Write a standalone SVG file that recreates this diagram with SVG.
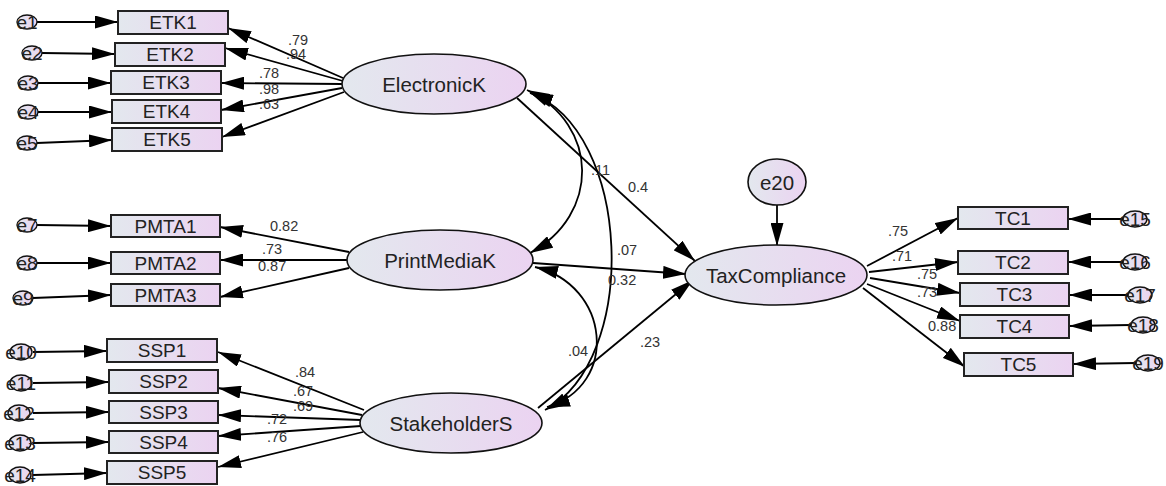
<svg xmlns="http://www.w3.org/2000/svg" width="1166" height="486" viewBox="0 0 1166 486">
<defs>
<linearGradient id="g" x1="0" y1="0" x2="1" y2="0">
<stop offset="0" stop-color="#e3e8ee"/>
<stop offset="1" stop-color="#ebd3f1"/>
</linearGradient>
<marker id="ah" markerUnits="userSpaceOnUse" markerWidth="23" markerHeight="13" refX="23" refY="6.5" orient="auto-start-reverse" viewBox="0 0 23 13">
<path d="M0,0 L23,6.5 L0,13 z" fill="#000"/>
</marker>
<style>
.box{fill:url(#g);stroke:#222;stroke-width:2}
.lat{fill:url(#g);stroke:#111;stroke-width:1.6}
.err{fill:url(#g);stroke:#111;stroke-width:1.4}
.t{font-family:"Liberation Sans",Arial,sans-serif;font-size:19px;fill:#222;text-anchor:middle;dominant-baseline:central}
.tl{font-family:"Liberation Sans",Arial,sans-serif;font-size:20.5px;fill:#222;text-anchor:middle;dominant-baseline:central}
.lb{font-family:"Liberation Sans",Arial,sans-serif;font-size:14.5px;fill:#333}
.c{fill:none;stroke:#000;stroke-width:1.8;marker-end:url(#ah)}
.cc{fill:none;stroke:#000;stroke-width:1.8;marker-start:url(#ah);marker-end:url(#ah)}
</style>
</defs>
<rect width="1166" height="486" fill="#fff"/>

<g id="connectors">
<line class="c" x1="37" y1="22" x2="118" y2="22"/>
<line class="c" x1="42" y1="53" x2="115" y2="54"/>
<line class="c" x1="38" y1="83" x2="111" y2="83"/>
<line class="c" x1="38" y1="112" x2="112" y2="112"/>
<line class="c" x1="37" y1="143" x2="112" y2="140"/>
<line class="c" x1="343" y1="78" x2="228" y2="28"/>
<line class="c" x1="343" y1="81" x2="225" y2="48"/>
<line class="c" x1="342" y1="84" x2="221" y2="83"/>
<line class="c" x1="342" y1="88" x2="221" y2="110"/>
<line class="c" x1="344" y1="92" x2="222" y2="137"/>
<line class="c" x1="37" y1="225" x2="111" y2="226"/>
<line class="c" x1="37" y1="263" x2="111" y2="263"/>
<line class="c" x1="33" y1="298" x2="111" y2="295"/>
<line class="c" x1="349" y1="252" x2="220" y2="227"/>
<line class="c" x1="347" y1="260" x2="220" y2="260"/>
<line class="c" x1="349" y1="268" x2="220" y2="297"/>
<line class="c" x1="33" y1="352" x2="107" y2="351"/>
<line class="c" x1="33" y1="383" x2="109" y2="382"/>
<line class="c" x1="33" y1="413" x2="109" y2="412"/>
<line class="c" x1="33" y1="443" x2="109" y2="442"/>
<line class="c" x1="33" y1="475" x2="107" y2="473"/>
<line class="c" x1="364" y1="410" x2="218" y2="352"/>
<line class="c" x1="362" y1="415" x2="218" y2="388"/>
<line class="c" x1="361" y1="420" x2="218" y2="415"/>
<line class="c" x1="361" y1="426" x2="218" y2="436"/>
<line class="c" x1="363" y1="432" x2="218" y2="467"/>
<line class="c" x1="517" y1="98" x2="695" y2="261"/>
<line class="c" x1="533" y1="263" x2="686" y2="274"/>
<line class="c" x1="538" y1="408" x2="693" y2="280"/>
<line class="c" x1="777" y1="205" x2="777" y2="246"/>
<path class="cc" d="M527,90 C600,125 600,215 530,253"/>
<path class="cc" d="M530,93 C632,130 640,360 545,410"/>
<path class="cc" d="M535,267 C610,285 620,385 547,407"/>
<line class="c" x1="867" y1="266" x2="958" y2="218"/>
<line class="c" x1="869" y1="272" x2="958" y2="262"/>
<line class="c" x1="870" y1="278" x2="960" y2="293"/>
<line class="c" x1="867" y1="284" x2="960" y2="321"/>
<line class="c" x1="863" y1="288" x2="965" y2="367"/>
<line class="c" x1="1123" y1="219" x2="1068" y2="219"/>
<line class="c" x1="1123" y1="262" x2="1068" y2="262"/>
<line class="c" x1="1128" y1="295" x2="1069" y2="295"/>
<line class="c" x1="1131" y1="325" x2="1069" y2="326"/>
<line class="c" x1="1136" y1="363" x2="1073" y2="364"/>
</g>

<g id="labels">
<text class="lb" x="288" y="45">.79</text>
<text class="lb" x="286" y="59">.94</text>
<text class="lb" x="259" y="78">.78</text>
<text class="lb" x="259" y="94">.98</text>
<text class="lb" x="259" y="109">.63</text>
<text class="lb" x="270" y="231">0.82</text>
<text class="lb" x="262" y="254">.73</text>
<text class="lb" x="258" y="271">0.87</text>
<text class="lb" x="295" y="377">.84</text>
<text class="lb" x="293" y="396">.67</text>
<text class="lb" x="293" y="411">.69</text>
<text class="lb" x="267" y="424">.72</text>
<text class="lb" x="267" y="442">.76</text>
<text class="lb" x="591" y="175">.11</text>
<text class="lb" x="628" y="192">0.4</text>
<text class="lb" x="617" y="255">.07</text>
<text class="lb" x="608" y="285">0.32</text>
<text class="lb" x="568" y="356">.04</text>
<text class="lb" x="640" y="347">.23</text>
<text class="lb" x="888" y="236">.75</text>
<text class="lb" x="892" y="261">.71</text>
<text class="lb" x="917" y="279">.75</text>
<text class="lb" x="917" y="297">.73</text>
<text class="lb" x="928" y="331">0.88</text>
</g>

<g id="ETK1"><rect class="box" x="118" y="11" width="110" height="23"/><text class="t" x="173" y="22.5">ETK1</text></g>
<g id="ETK2"><rect class="box" x="115" y="43" width="110" height="23"/><text class="t" x="170" y="54.5">ETK2</text></g>
<g id="ETK3"><rect class="box" x="111" y="71" width="110" height="23"/><text class="t" x="166" y="82.5">ETK3</text></g>
<g id="ETK4"><rect class="box" x="112" y="100" width="109" height="23"/><text class="t" x="166.5" y="111.5">ETK4</text></g>
<g id="ETK5"><rect class="box" x="112" y="128" width="110" height="23"/><text class="t" x="167" y="139.5">ETK5</text></g>

<g id="PMTA1"><rect class="box" x="111" y="215" width="109" height="22"/><text class="t" x="165.5" y="226">PMTA1</text></g>
<g id="PMTA2"><rect class="box" x="111" y="252" width="109" height="22"/><text class="t" x="165.5" y="263">PMTA2</text></g>
<g id="PMTA3"><rect class="box" x="111" y="284" width="109" height="22"/><text class="t" x="165.5" y="295">PMTA3</text></g>

<g id="SSP1"><rect class="box" x="107" y="339" width="110" height="23"/><text class="t" x="162" y="350.5">SSP1</text></g>
<g id="SSP2"><rect class="box" x="109" y="370" width="109" height="23"/><text class="t" x="163.5" y="381.5">SSP2</text></g>
<g id="SSP3"><rect class="box" x="109" y="401" width="109" height="22"/><text class="t" x="163.5" y="412">SSP3</text></g>
<g id="SSP4"><rect class="box" x="109" y="431" width="109" height="22"/><text class="t" x="163.5" y="442">SSP4</text></g>
<g id="SSP5"><rect class="box" x="107" y="461" width="110" height="23"/><text class="t" x="162" y="472.5">SSP5</text></g>

<g id="TC1"><rect class="box" x="958" y="207" width="110" height="22"/><text class="t" x="1013" y="218">TC1</text></g>
<g id="TC2"><rect class="box" x="958" y="251" width="110" height="23"/><text class="t" x="1013" y="262.5">TC2</text></g>
<g id="TC3"><rect class="box" x="960" y="283" width="109" height="23"/><text class="t" x="1014.5" y="294.5">TC3</text></g>
<g id="TC4"><rect class="box" x="960" y="315" width="109" height="23"/><text class="t" x="1014.5" y="326.5">TC4</text></g>
<g id="TC5"><rect class="box" x="964" y="353" width="109" height="23"/><text class="t" x="1018.5" y="364.5">TC5</text></g>

<g id="ElectronicK"><ellipse class="lat" cx="434" cy="84" rx="92" ry="30"/><text class="tl" x="434" y="84">ElectronicK</text></g>
<g id="PrintMediaK"><ellipse class="lat" cx="440" cy="260" rx="93" ry="30"/><text class="tl" x="440" y="260">PrintMediaK</text></g>
<g id="StakeholderS"><ellipse class="lat" cx="451" cy="423" rx="91" ry="30"/><text class="tl" x="451" y="423">StakeholderS</text></g>
<g id="TaxCompliance"><ellipse class="lat" cx="776" cy="275" rx="91" ry="30"/><text class="tl" x="776" y="275">TaxCompliance</text></g>
<g id="e20"><ellipse class="lat" cx="777" cy="182" rx="29" ry="23"/><text class="tl" x="777" y="182">e20</text></g>

<g id="e1"><ellipse class="err" cx="27" cy="22" rx="10" ry="7"/><text class="t" x="27" y="22">e1</text></g>
<g id="e2"><ellipse class="err" cx="32" cy="53" rx="10" ry="7"/><text class="t" x="32" y="53">e2</text></g>
<g id="e3"><ellipse class="err" cx="28" cy="83" rx="10" ry="7"/><text class="t" x="28" y="83">e3</text></g>
<g id="e4"><ellipse class="err" cx="28" cy="112" rx="10" ry="7"/><text class="t" x="28" y="112">e4</text></g>
<g id="e5"><ellipse class="err" cx="27" cy="143" rx="10" ry="7"/><text class="t" x="27" y="143">e5</text></g>
<g id="e7"><ellipse class="err" cx="27" cy="225" rx="10" ry="7"/><text class="t" x="27" y="225">e7</text></g>
<g id="e8"><ellipse class="err" cx="27" cy="263" rx="10" ry="7"/><text class="t" x="27" y="263">e8</text></g>
<g id="e9"><ellipse class="err" cx="23" cy="298" rx="10" ry="7"/><text class="t" x="23" y="298">e9</text></g>
<g id="e10"><ellipse class="err" cx="21" cy="352" rx="11" ry="8"/><text class="t" x="21" y="352">e10</text></g>
<g id="e11"><ellipse class="err" cx="21" cy="383" rx="11" ry="8"/><text class="t" x="21" y="383">e11</text></g>
<g id="e12"><ellipse class="err" cx="19" cy="413" rx="11" ry="8"/><text class="t" x="19" y="413">e12</text></g>
<g id="e13"><ellipse class="err" cx="20" cy="443" rx="11" ry="8"/><text class="t" x="20" y="443">e13</text></g>
<g id="e14"><ellipse class="err" cx="20" cy="475" rx="11" ry="8"/><text class="t" x="20" y="475">e14</text></g>
<g id="e15"><ellipse class="err" cx="1135" cy="219" rx="12" ry="8"/><text class="t" x="1135" y="219">e15</text></g>
<g id="e16"><ellipse class="err" cx="1135" cy="262" rx="12" ry="8"/><text class="t" x="1135" y="262">e16</text></g>
<g id="e17"><ellipse class="err" cx="1140" cy="295" rx="12" ry="8"/><text class="t" x="1140" y="295">e17</text></g>
<g id="e18"><ellipse class="err" cx="1143" cy="325" rx="12" ry="8"/><text class="t" x="1143" y="325">e18</text></g>
<g id="e19"><ellipse class="err" cx="1148" cy="363" rx="12" ry="8"/><text class="t" x="1148" y="363">e19</text></g>
</svg>
